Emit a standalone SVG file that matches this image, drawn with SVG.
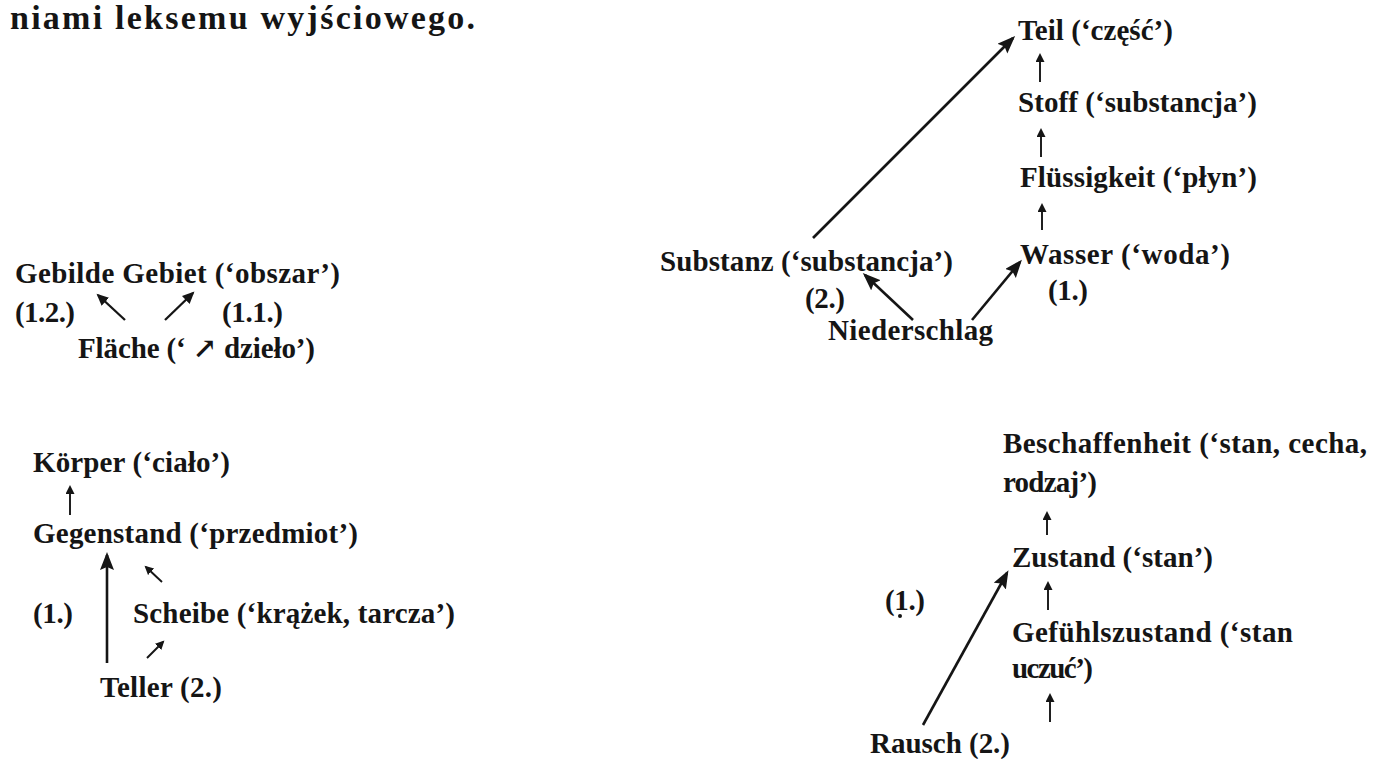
<svg xmlns="http://www.w3.org/2000/svg" width="1374" height="759" viewBox="0 0 1374 759">
<style>
.t{font-family:"Liberation Serif","DejaVu Serif",serif;font-weight:bold;font-size:29px;fill:#151515}
.h{font-size:34px}
.big{stroke:#151515;stroke-width:2.6;fill:none;marker-end:url(#mb)}
.sm{stroke:#151515;stroke-width:1.9;fill:none;marker-end:url(#ms)}
.md{stroke:#151515;stroke-width:2.3;fill:none;marker-end:url(#mm)}
</style>
<defs>
<marker id="mb" markerUnits="userSpaceOnUse" markerWidth="20" markerHeight="16" refX="15" refY="7" orient="auto"><path d="M0,0 L18,7 L0,14 L3,7 z" fill="#151515"/></marker>
<marker id="ms" markerUnits="userSpaceOnUse" markerWidth="10" markerHeight="10" refX="7" refY="4.5" orient="auto"><path d="M0,0 L9,4.5 L0,9 z" fill="#151515"/></marker>
<marker id="mm" markerUnits="userSpaceOnUse" markerWidth="14" markerHeight="12" refX="10" refY="5.5" orient="auto"><path d="M0,0 L12,5.5 L0,11 z" fill="#151515"/></marker>
</defs>
<rect width="1374" height="759" fill="#ffffff"/>
<text class="t h" x="10" y="29" textLength="465" lengthAdjust="spacing">niami  leksemu  wyjściowego.</text>

<g id="gebilde"><text class="t" x="15" y="283" textLength="325" lengthAdjust="spacing">Gebilde  Gebiet  (‘obszar’)</text></g>
<g id="label-12"><text class="t" x="15" y="322" textLength="60" lengthAdjust="spacing">(1.2.)</text></g>
<g id="label-11"><text class="t" x="222" y="322" textLength="61" lengthAdjust="spacing">(1.1.)</text></g>
<g id="flaeche"><text class="t" x="78" y="358" textLength="237" lengthAdjust="spacing">Fläche  (‘ ↗ dzieło’)</text></g>

<g id="koerper"><text class="t" x="33" y="472" textLength="197" lengthAdjust="spacing">Körper  (‘ciało’)</text></g>
<g id="gegenstand"><text class="t" x="33" y="543" textLength="325" lengthAdjust="spacing">Gegenstand  (‘przedmiot’)</text></g>
<g id="label-1a"><text class="t" x="33" y="623" textLength="40" lengthAdjust="spacing">(1.)</text></g>
<g id="scheibe"><text class="t" x="133" y="623" textLength="322" lengthAdjust="spacing">Scheibe  (‘krążek,  tarcza’)</text></g>
<g id="teller"><text class="t" x="100" y="697" textLength="122" lengthAdjust="spacing">Teller  (2.)</text></g>

<g id="teil"><text class="t" x="1018" y="40" textLength="155" lengthAdjust="spacing">Teil  (‘część’)</text></g>
<g id="stoff"><text class="t" x="1018" y="112" textLength="239" lengthAdjust="spacing">Stoff  (‘substancja’)</text></g>
<g id="fluessigkeit"><text class="t" x="1020" y="187" textLength="237" lengthAdjust="spacing">Flüssigkeit  (‘płyn’)</text></g>
<g id="wasser"><text class="t" x="1020" y="264" textLength="210" lengthAdjust="spacing">Wasser  (‘woda’)</text></g>
<g id="label-1b"><text class="t" x="1048" y="300" textLength="40" lengthAdjust="spacing">(1.)</text></g>
<g id="substanz"><text class="t" x="660" y="271" textLength="293" lengthAdjust="spacing">Substanz  (‘substancja’)</text></g>
<g id="label-2b"><text class="t" x="805" y="308" textLength="40" lengthAdjust="spacing">(2.)</text></g>
<g id="niederschlag"><text class="t" x="828" y="340" textLength="165" lengthAdjust="spacing">Niederschlag</text></g>

<g id="beschaffenheit"><text class="t" x="1003" y="453" textLength="364" lengthAdjust="spacing">Beschaffenheit  (‘stan,  cecha,</text><text class="t" x="1003" y="492" textLength="94" lengthAdjust="spacing">rodzaj’)</text></g>
<g id="zustand"><text class="t" x="1012" y="567" textLength="201" lengthAdjust="spacing">Zustand  (‘stan’)</text></g>
<g id="gefuehlszustand"><text class="t" x="1012" y="642" textLength="281" lengthAdjust="spacing">Gefühlszustand  (‘stan</text><text class="t" x="1012" y="678" textLength="81" lengthAdjust="spacing">uczuć’)</text></g>
<g id="label-1c"><text class="t" x="885" y="610" textLength="40" lengthAdjust="spacing">(1.)</text><circle cx="900" cy="616" r="2" fill="#151515"/></g>
<g id="rausch"><text class="t" x="870" y="753" textLength="140" lengthAdjust="spacing">Rausch  (2.)</text></g>

<g id="connectors">
<line class="big" x1="813" y1="238" x2="1013" y2="38"/>
<line class="big" x1="913" y1="320" x2="865" y2="275"/>
<line class="big" x1="972" y1="320" x2="1020" y2="262"/>
<line class="big" x1="107" y1="663" x2="107" y2="555"/>
<line class="big" x1="923" y1="725" x2="1007" y2="573"/>
<line class="sm" x1="1042" y1="230" x2="1042" y2="205"/>
<line class="sm" x1="1041" y1="157" x2="1041" y2="130"/>
<line class="sm" x1="1040" y1="82" x2="1040" y2="55"/>
<line class="sm" x1="70" y1="515" x2="70" y2="487"/>
<line class="sm" x1="147" y1="658" x2="163" y2="642"/>
<line class="sm" x1="162" y1="582" x2="146" y2="567"/>
<line class="md" x1="125" y1="320" x2="98" y2="295"/>
<line class="md" x1="165" y1="320" x2="193" y2="293"/>
<line class="sm" x1="1048" y1="610" x2="1048" y2="583"/>
<line class="sm" x1="1047" y1="535" x2="1047" y2="513"/>
<line class="sm" x1="1050" y1="722" x2="1050" y2="695"/>
</g>
</svg>
